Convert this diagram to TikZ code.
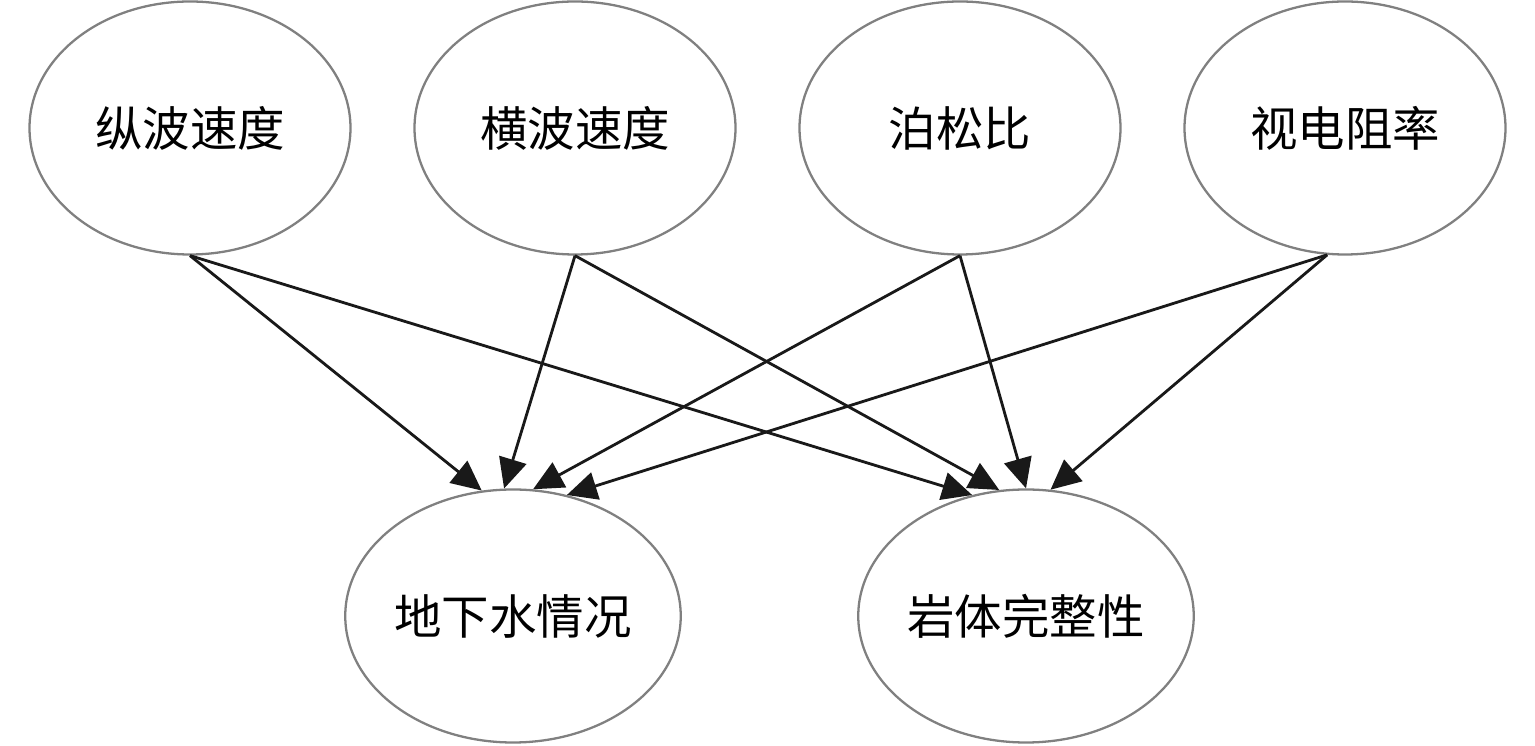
\documentclass[tikz,border=0pt]{standalone}
\usepackage{fontspec}
\newfontfamily\cjk{Noto Sans CJK SC}
\usetikzlibrary{shapes.geometric}
\usetikzlibrary{arrows.meta}
\usetikzlibrary{positioning}
\begin{document}
\begin{tikzpicture}[node distance=7.7cm,
  obs/.style={draw=black!50,line width=1.3pt,ellipse,minimum width=6.42cm,minimum height=5.06cm,inner sep=0pt,font=\cjk\fontsize{27}{32}\selectfont},
  arr/.style={line width=1.6pt,draw=black!90,-{Triangle[length=0.6cm,width=0.56cm]}}]
  \useasboundingbox (0,0) rectangle (30.7,14.92);
  \node[obs] (zb) at (3.8,12.36) {纵波速度};
  \node[obs,right of=zb] (hb) {横波速度};
  \node[obs,right of=hb] (bs) {泊松比};
  \node[obs,right of=bs] (sd) {视电阻率};
  \node[obs] (dxs) at (10.26,2.6) {地下水情况};
  \node[obs,right of=dxs,node distance=10.26cm] (yt) {岩体完整性};
  \draw[arr](zb.south)--(dxs.104);
  \draw[arr](zb.south)--(yt.114);
  \draw[arr](hb.south)--(dxs.94);
  \draw[arr](hb.south)--(yt.102);
  \draw[arr](bs.south)--(dxs.81);
  \draw[arr](bs.south)--(yt.90);
  \draw[arr](sd.262)--(dxs.66);
  \draw[arr](sd.262)--(yt.79);
\end{tikzpicture}
\end{document}
